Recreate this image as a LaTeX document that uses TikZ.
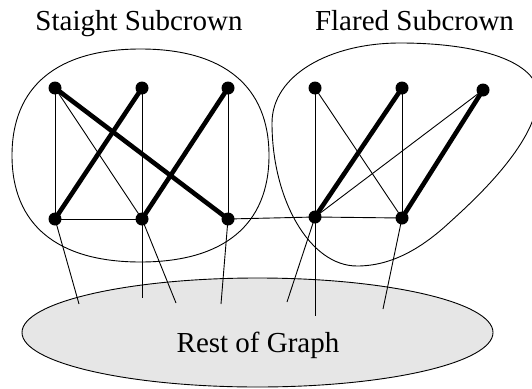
\documentclass[tikz,border=0pt]{standalone}
\usepackage{fontspec}
\setmainfont{Liberation Serif}
\usetikzlibrary{shapes.geometric}
\definecolor{restgray}{HTML}{E6E6E6}
\pgfdeclarelayer{bg}
\pgfsetlayers{bg,main}
\tikzset{
  vtx/.style={circle, fill=black, inner sep=0pt, minimum size=13pt},
  thin edge/.style={line width=0.9pt},
  thick edge/.style={line width=4.6pt},
  blob/.style={line width=0.9pt},
  title/.style={anchor=base, inner sep=0pt, font=\fontsize{29}{34}\selectfont},
}
\begin{document}
\begin{tikzpicture}[x=1pt, y=-1pt]
\clip (0,0) rectangle (532,388);
% vertices
\node[vtx] (L1) at (55,88) {};
\node[vtx] (L2) at (142,88) {};
\node[vtx] (L3) at (228,88) {};
\node[vtx] (L4) at (55,219) {};
\node[vtx] (L5) at (142,219) {};
\node[vtx] (L6) at (228,219) {};
\node[vtx] (R1) at (315,88) {};
\node[vtx] (R2) at (402,88) {};
\node[vtx] (R3) at (483,90) {};
\node[vtx] (R4) at (315,217) {};
\node[vtx] (R5) at (402,218) {};
% leg ends
\coordinate (e1) at (79,304);
\coordinate (e2) at (142,298);
\coordinate (e3) at (176,303);
\coordinate (e4) at (221,304);
\coordinate (e5) at (287,302);
\coordinate (e6) at (315,316);
\coordinate (e7) at (383,309);
% titles
\node[title] (t1) at (139,30.6) {Staight Subcrown};
\node[title] (t2) at (414.5,30.6) {Flared Subcrown};
\begin{pgfonlayer}{bg}
% rest of graph
\node[ellipse, draw, line width=0.9pt, fill=restgray, minimum width=471pt, minimum height=109pt, inner sep=0pt] (rest) at (257.5,332.5) {};
% blobs
\draw[blob] (12,155.5) .. controls (12,86.5) and (57,49) .. (140.5,49)
  .. controls (224,49) and (269,86.5) .. (269,155.5)
  .. controls (269,224.5) and (224,262) .. (140.5,262)
  .. controls (57,262) and (12,224.5) .. (12,155.5) -- cycle;
\draw[blob] (272,123) .. controls (272,75) and (330,43) .. (400,43)
  .. controls (480,43) and (538,62) .. (538,95)
  .. controls (538,140) and (480,195) .. (450,222)
  .. controls (420,250) and (390,266) .. (357,266)
  .. controls (310,266) and (272,200) .. (272,123) -- cycle;
% legs
\draw[thin edge] (L4.center) -- (e1);
\draw[thin edge] (L5.center) -- (e2);
\draw[thin edge] (L5.center) -- (e3);
\draw[thin edge] (L6.center) -- (e4);
\draw[thin edge] (R4.center) -- (e5);
\draw[thin edge] (R4.center) -- (e6);
\draw[thin edge] (R5.center) -- (e7);
% thin edges
\draw[thin edge] (L1.center) -- (L4.center);
\draw[thin edge] (L1.center) -- (L5.center);
\draw[thin edge] (L2.center) -- (L5.center);
\draw[thin edge] (L3.center) -- (L6.center);
\draw[thin edge] (L4.center) -- (L5.center);
\draw[thin edge] (L6.center) -- (R4.center);
\draw[thin edge] (R1.center) -- (R4.center);
\draw[thin edge] (R1.center) -- (R5.center);
\draw[thin edge] (R2.center) -- (R5.center);
\draw[thin edge] (R3.center) -- (R4.center);
\draw[thin edge] (R4.center) -- (R5.center);
% thick edges
\draw[thick edge] (L1.center) -- (L6.center);
\draw[thick edge] (L2.center) -- (L4.center);
\draw[thick edge] (L3.center) -- (L5.center);
\draw[thick edge] (R2.center) -- (R4.center);
\draw[thick edge] (R3.center) -- (R5.center);
\end{pgfonlayer}
\node[title] (rt) at (258,352) {Rest of Graph};
\end{tikzpicture}
\end{document}
